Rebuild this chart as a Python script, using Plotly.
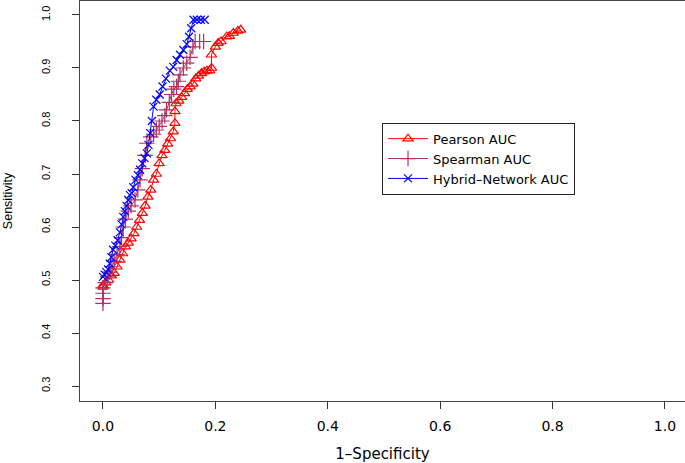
import plotly.graph_objects as go

# Pearson AUC (red, triangles)
pearson_fpr = [0.0, 0.0, 0.005, 0.01, 0.015, 0.02, 0.025, 0.03, 0.035, 0.04, 0.045, 0.05, 0.055,
               0.06, 0.065, 0.07, 0.075, 0.08, 0.085, 0.09, 0.095, 0.10, 0.105, 0.11, 0.115, 0.12,
               0.125, 0.128, 0.128, 0.13, 0.135, 0.14, 0.145, 0.15, 0.155, 0.16, 0.165, 0.17, 0.175,
               0.18, 0.185, 0.19, 0.193, 0.193, 0.20, 0.205, 0.21, 0.22, 0.225, 0.232, 0.24, 0.245]
pearson_sens = [0.487, 0.49, 0.495, 0.50, 0.508, 0.513, 0.525, 0.538, 0.55, 0.563, 0.57, 0.578, 0.588,
                0.60, 0.613, 0.626, 0.64, 0.657, 0.67, 0.689, 0.70, 0.72, 0.735, 0.745, 0.757, 0.767,
                0.78, 0.796, 0.818, 0.833, 0.838, 0.845, 0.852, 0.86, 0.865, 0.87, 0.88, 0.885, 0.89,
                0.893, 0.895, 0.895, 0.90, 0.925, 0.94, 0.947, 0.95, 0.959, 0.96, 0.966, 0.97, 0.972]

# Spearman AUC (maroon, plus)
spearman_fpr = [0.0, 0.0, 0.0, 0.0, 0.004, 0.008, 0.012, 0.016, 0.02, 0.025, 0.03, 0.033, 0.036, 0.04,
                0.045, 0.05, 0.057, 0.062, 0.066, 0.07, 0.075, 0.078, 0.085, 0.09, 0.095, 0.10, 0.105,
                0.11, 0.113, 0.118, 0.122, 0.126, 0.131, 0.134, 0.137, 0.143, 0.149, 0.155, 0.16, 0.164,
                0.172, 0.179]
spearman_sens = [0.456, 0.465, 0.475, 0.485, 0.495, 0.506, 0.515, 0.525, 0.535, 0.548, 0.563, 0.58, 0.60,
                 0.615, 0.63, 0.64, 0.651, 0.67, 0.689, 0.71, 0.735, 0.758, 0.77, 0.775, 0.783, 0.79,
                 0.80, 0.81, 0.821, 0.835, 0.85, 0.86, 0.865, 0.875, 0.887, 0.90, 0.909, 0.92, 0.94,
                 0.95, 0.95, 0.95]

# Hybrid-Network AUC (blue, x)
hybrid_fpr = [0.0, 0.003, 0.006, 0.009, 0.012, 0.015, 0.018, 0.022, 0.026, 0.03, 0.033, 0.036, 0.039,
              0.042, 0.045, 0.048, 0.051, 0.054, 0.058, 0.062, 0.066, 0.07, 0.074, 0.078, 0.081, 0.084,
              0.087, 0.09, 0.095, 0.101, 0.106, 0.112, 0.119, 0.125, 0.131, 0.137, 0.143, 0.149, 0.153,
              0.157, 0.161, 0.167, 0.174, 0.181]
hybrid_sens = [0.506, 0.51, 0.515, 0.52, 0.531, 0.543, 0.557, 0.565, 0.575, 0.59, 0.605, 0.619, 0.63,
               0.64, 0.651, 0.66, 0.664, 0.675, 0.689, 0.698, 0.708, 0.72, 0.73, 0.739, 0.755, 0.777,
               0.80, 0.827, 0.84, 0.85, 0.865, 0.88, 0.895, 0.902, 0.915, 0.925, 0.934, 0.945, 0.959,
               0.975, 0.991, 0.991, 0.991, 0.991]

x_ticks = [0.0, 0.2, 0.4, 0.6, 0.8, 1.0]
y_ticks = [0.3, 0.4, 0.5, 0.6, 0.7, 0.8, 0.9, 1.0]

fig = go.Figure()
fig.add_trace(go.Scatter(
    x=pearson_fpr, y=pearson_sens, mode="lines+markers", name="Pearson AUC",
    line=dict(color="#FF0000", width=1),
    marker=dict(symbol="triangle-up-open", size=9, color="#FF0000", line=dict(width=1.2, color="#FF0000")),
))
fig.add_trace(go.Scatter(
    x=spearman_fpr, y=spearman_sens, mode="lines+markers", name="Spearman AUC",
    line=dict(color="#B03060", width=1),
    marker=dict(symbol="cross-thin-open", size=11, color="#B03060", line=dict(width=1.2, color="#B03060")),
))
fig.add_trace(go.Scatter(
    x=hybrid_fpr, y=hybrid_sens, mode="lines+markers", name="Hybrid–Network AUC",
    line=dict(color="#0000FF", width=1),
    marker=dict(symbol="x-thin-open", size=8, color="#0000FF", line=dict(width=1.2, color="#0000FF")),
))

fig.update_layout(
    width=685, height=463,
    margin=dict(l=80, r=0, t=1, b=62),
    paper_bgcolor="white", plot_bgcolor="white",
    showlegend=True,
    legend=dict(
        x=0.4992, y=0.6958, xanchor="left", yanchor="top",
        orientation="v",
        bgcolor="white", bordercolor="#222222", borderwidth=1,
        font=dict(family="DejaVu Sans", size=13, color="black"),
        itemwidth=40, tracegroupgap=0,
    ),
)
fig.update_xaxes(
    range=[-0.0409, 1.0356], tickvals=x_ticks, ticktext=[f"{v:.1f}" for v in x_ticks],
    showgrid=False, zeroline=False, showline=True, mirror=True, linecolor="#444444", linewidth=1,
    ticks="outside", ticklen=7, tickcolor="#333333", ticklabelstandoff=5,
    tickfont=dict(family="DejaVu Sans", size=14, color="black"),
    title=dict(text="1–Specificity", font=dict(family="DejaVu Sans", size=15, color="black"), standoff=17),
)
fig.update_yaxes(
    range=[0.2717, 1.0264], tickvals=y_ticks, ticktext=[f"{v:.1f}" for v in y_ticks],
    showgrid=False, zeroline=False, showline=True, mirror=False, linecolor="#444444", linewidth=1,
    ticks="outside", ticklen=7, tickcolor="#333333", tickangle=-90, ticklabelstandoff=18,
    tickfont=dict(family="Liberation Sans", size=11, color="black"),
    title=dict(text="Sensitivity", font=dict(family="Liberation Sans", size=12.5, color="black"), standoff=24),
)

fig.write_html(
    "out.html",
    config={"displayModeBar": False},
    post_script="document.body.style.margin='0';document.body.style.overflow='hidden';",
)
